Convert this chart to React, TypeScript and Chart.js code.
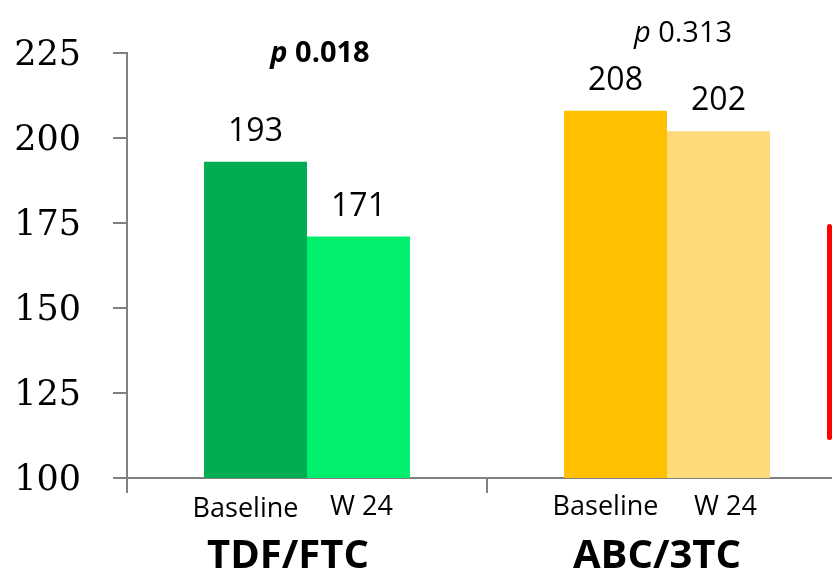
import React, { useEffect, useRef } from "react";
import { Chart, registerables } from "chart.js";

Chart.register(...registerables);

const categories = ["TDF/FTC", "ABC/3TC"];
const timepoints = ["Baseline", "W 24"];
const baselineValues = [193, 208];
const week24Values = [171, 202];
const pValues = ["0.018", "0.313"];
const pBold = [true, false];
const yMin = 100;
const yMax = 225;
const yStep = 25;

const baselineColors = ["#00AD50", "#FFC000"];
const week24Colors = ["#00EF6C", "#FFDA78"];

const CANVAS_W = 880;
const CANVAS_H = 574;

// text placement tweaks (relative to bars / categories)
const subLabelOffsets = [
  [-10, -10],
  [3, 7],
];
const subLabelBaselines = [
  [39, 37],
  [37, 37],
];
const categoryOffsets = [-19, -10];
const pOffsets = [
  [13, 9],
  [16, -11],
];

const slideLabels = {
  id: "slideLabels",
  afterDatasetsDraw(chart: any) {
    const ctx = chart.ctx as CanvasRenderingContext2D;
    const xs = chart.scales.x;
    const area = chart.chartArea;
    ctx.save();
    ctx.fillStyle = "#000";
    ctx.textAlign = "center";
    ctx.textBaseline = "alphabetic";

    chart.data.datasets.forEach((ds: any, di: number) => {
      const meta = chart.getDatasetMeta(di);
      meta.data.forEach((bar: any, i: number) => {
        ctx.font = "32px 'Open Sans'";
        ctx.fillText(String(ds.data[i]), bar.x, bar.y - 21);
        ctx.font = "27px 'Open Sans'";
        ctx.fillText(
          timepoints[di],
          bar.x + subLabelOffsets[di][i],
          xs.top + subLabelBaselines[di][i]
        );
      });
    });

    categories.forEach((c, i) => {
      const cx = xs.getPixelForValue(i);
      ctx.font = "bold 40px 'Open Sans'";
      ctx.fillText(c, cx + categoryOffsets[i], xs.top + 90);

      const weight = pBold[i] ? "bold " : "";
      const pFont = `italic ${weight}29px 'Open Sans'`;
      const nFont = `${weight}29px 'Open Sans'`;
      ctx.font = pFont;
      const pw = ctx.measureText("p ").width;
      ctx.font = nFont;
      const nw = ctx.measureText(pValues[i]).width;
      const total = pw + nw;
      const left = cx + pOffsets[i][0] - total / 2;
      const by = area.top + pOffsets[i][1];
      ctx.textAlign = "left";
      ctx.font = pFont;
      ctx.fillText("p ", left, by);
      ctx.font = nFont;
      ctx.fillText(pValues[i], left + pw, by);
      ctx.textAlign = "center";
    });
    ctx.restore();
  },
};

export default function App() {
  const ref = useRef<HTMLCanvasElement | null>(null);

  useEffect(() => {
    if (!ref.current) return;
    const chart = new Chart(ref.current, {
      type: "bar",
      data: {
        labels: categories,
        datasets: [
          {
            label: timepoints[0],
            data: baselineValues,
            backgroundColor: baselineColors,
            borderWidth: 0,
          },
          {
            label: timepoints[1],
            data: week24Values,
            backgroundColor: week24Colors,
            borderWidth: 0,
          },
        ],
      },
      options: {
        responsive: false,
        animation: false,
        devicePixelRatio: 1,
        datasets: {
          bar: { categoryPercentage: 0.572, barPercentage: 1.0 },
        },
        layout: { padding: { top: 47, right: CANVAS_W - 847, left: 0, bottom: 0 } },
        plugins: {
          legend: { display: false },
          tooltip: { enabled: false },
          title: { display: false },
        },
        scales: {
          x: {
            offset: true,
            ticks: { display: false },
            grid: {
              offset: true,
              drawOnChartArea: false,
              drawTicks: true,
              tickLength: 15,
              tickColor: "#808080",
              lineWidth: 2,
              color: "#808080",
            },
            border: { display: true, color: "#808080", width: 2 },
            afterFit: (s: any) => {
              s.height = 96;
            },
          },
          y: {
            min: yMin,
            max: yMax,
            ticks: {
              stepSize: yStep,
              padding: 32,
              labelOffset: 3,
              color: "#000",
              font: { family: "'DejaVu Serif'", size: 35 },
            },
            grid: {
              drawOnChartArea: false,
              drawTicks: true,
              tickLength: 14,
              tickColor: "#808080",
              lineWidth: 2,
              color: "#808080",
            },
            border: { display: true, color: "#808080", width: 2 },
            afterFit: (s: any) => {
              s.width = 127;
            },
          },
        },
      },
      plugins: [slideLabels],
    });
    return () => chart.destroy();
  }, []);

  return (
    <div
      style={{
        position: "fixed",
        left: 0,
        top: 0,
        width: 832,
        height: 574,
        overflow: "hidden",
        background: "#fff",
      }}
    >
      <canvas
        ref={ref}
        width={CANVAS_W}
        height={CANVAS_H}
        style={{ display: "block", width: CANVAS_W, height: CANVAS_H }}
      />
      <div
        style={{
          position: "absolute",
          left: 827,
          top: 224,
          width: 5,
          height: 216,
          background: "#FF0000",
          borderRadius: 3,
        }}
      />
    </div>
  );
}
